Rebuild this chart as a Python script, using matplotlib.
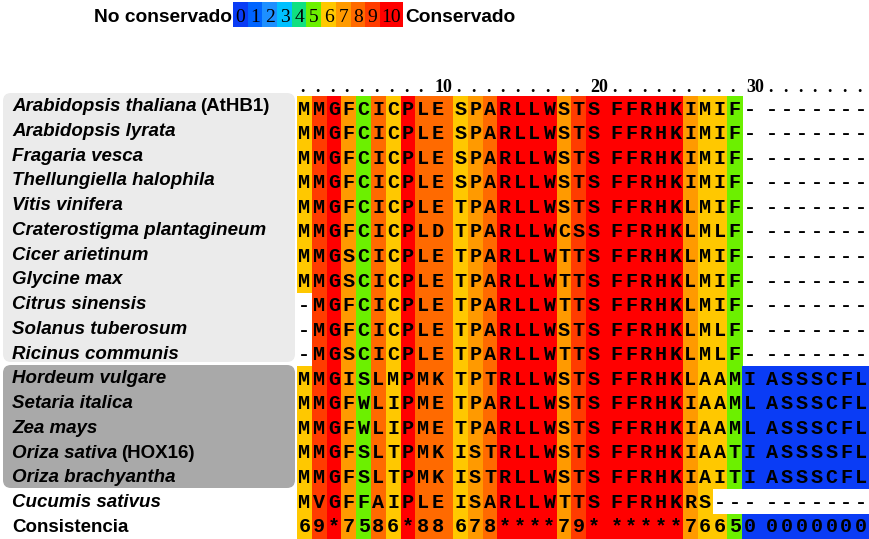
import matplotlib
matplotlib.use('Agg')
from matplotlib import pyplot as plt
from matplotlib.patches import Rectangle, FancyBboxPatch

species = ['Arabidopsis thaliana', 'Arabidopsis lyrata', 'Fragaria vesca',
           'Thellungiella halophila', 'Vitis vinifera', 'Craterostigma plantagineum',
           'Cicer arietinum', 'Glycine max', 'Citrus sinensis', 'Solanus tuberosum',
           'Ricinus communis', 'Hordeum vulgare', 'Setaria italica', 'Zea mays',
           'Oriza sativa', 'Oriza brachyantha', 'Cucumis sativus']
tags = ['(AtHB1)', '', '', '', '', '', '', '', '', '', '', '', '', '', '(HOX16)', '', '']

seqs = ['MMGFCICPLE' 'SPARLLWSTS' 'FFRHKIMIF-' '-------',
        'MMGFCICPLE' 'SPARLLWSTS' 'FFRHKIMIF-' '-------',
        'MMGFCICPLE' 'SPARLLWSTS' 'FFRHKIMIF-' '-------',
        'MMGFCICPLE' 'SPARLLWSTS' 'FFRHKIMIF-' '-------',
        'MMGFCICPLE' 'TPARLLWSTS' 'FFRHKLMIF-' '-------',
        'MMGFCICPLD' 'TPARLLWCSS' 'FFRHKLMLF-' '-------',
        'MMGSCICPLE' 'TPARLLWTTS' 'FFRHKLMIF-' '-------',
        'MMGSCICPLE' 'TPARLLWTTS' 'FFRHKLMIF-' '-------',
        '-MGFCICPLE' 'TPARLLWTTS' 'FFRHKLMIF-' '-------',
        '-MGFCICPLE' 'TPARLLWSTS' 'FFRHKLMLF-' '-------',
        '-MGSCICPLE' 'TPARLLWTTS' 'FFRHKLMLF-' '-------',
        'MMGISLMPMK' 'TPTRLLWSTS' 'FFRHKLAAMI' 'ASSSCFL',
        'MMGFWLIPME' 'TPARLLWSTS' 'FFRHKIAAML' 'ASSSCFL',
        'MMGFWLIPME' 'TPARLLWSTS' 'FFRHKIAAML' 'ASSSCFL',
        'MMGFSLTPMK' 'ISTRLLWSTS' 'FFRHKIAATI' 'ASSSSFL',
        'MMGFSLTPMK' 'ISTRLLWSTS' 'FFRHKIAITI' 'ASSSCFL',
        'MVGFFAIPLE' 'ISARLLWTTS' 'FFRHKRS---' '-------']
consensus = '69*7586*88' '678****79*' '*****76650' '0000000'

score_colors = ['#0a3cf5', '#0064ff', '#1e90ff', '#00c0ff', '#10e080', '#6cf000',
                '#ffc800', '#ff9a00', '#ff6a00', '#ff3c00', '#ff0000']
scores = [10 if c == '*' else int(c) for c in consensus]

W, H = 869, 539
fig = plt.figure(figsize=(W / 100, H / 100), dpi=100)
ax = fig.add_axes([0, 0, 1, 1])
ax.set_xlim(0, W)
ax.set_ylim(H, 0)
ax.axis('off')

# alignment grid: fixed pitch, with a narrow spacer after every 10 columns
x0, pitch, gap = 297, 14.8, 8
top0, rh = 96.2, 24.55
lab0, lab_rh = 111, 24.76
ncol = len(consensus)
mono = dict(family='Liberation Mono', weight='bold', size=14.5)


def col_x(j):
    return x0 + j * pitch + (j // 10) * gap


def cell_w(j):
    return pitch + gap if (j % 10 == 9 and j < ncol - 1) else pitch


# grey group boxes behind the names
ax.add_patch(FancyBboxPatch((3, 93), 292, 269, boxstyle='round,pad=0,rounding_size=8',
                            fc='#ebebeb', ec='none'))
ax.add_patch(FancyBboxPatch((3, 365), 292, 123, boxstyle='round,pad=0,rounding_size=8',
                            fc='#a9a9a9', ec='none'))

rows = seqs + [consensus]
for i, s in enumerate(rows):
    top = top0 + i * rh
    for j, c in enumerate(s):
        if c != '-':
            ax.add_patch(Rectangle((col_x(j), top), cell_w(j) + 0.4, rh + 0.4,
                                   fc=score_colors[scores[j]], ec='none'))
        ax.text(col_x(j) + pitch / 2, top + 18.5, c, ha='center', va='baseline', **mono)

# ruler
for j in range(ncol):
    if (j + 1) % 10 == 0:
        ax.text(col_x(j) + pitch + gap - 1, 92, str(j + 1), ha='right', va='baseline',
                family='Liberation Serif', weight='bold', size=13)
    else:
        ax.text(col_x(j) + pitch / 2 - 2, 92, '.', ha='center', va='baseline',
                family='Liberation Serif', weight='bold', size=13)

# species names (italic) with the gene tag in upright type
fig.canvas.draw()
renderer = fig.canvas.get_renderer()
for i, name in enumerate(species):
    y = lab0 + i * lab_rh
    t = ax.text(12, y, name, ha='left', va='baseline', family='Liberation Sans',
                weight='bold', style='italic', size=13.5)
    if tags[i]:
        bb = t.get_window_extent(renderer)
        xe = ax.transData.inverted().transform((bb.x1, bb.y0))[0]
        ax.text(xe + 4, y, tags[i], ha='left', va='baseline', family='Liberation Sans',
                weight='bold', size=13.5)
ax.text(12, lab0 + len(species) * lab_rh, 'Consistencia', ha='left', va='baseline',
        family='Liberation Sans', weight='bold', size=13.5)

# colour key
ax.text(232, 22, 'No conservado', ha='right', va='baseline', family='Liberation Sans',
        weight='bold', size=13.8)
kx = 233
for k in range(11):
    w = 23 if k == 10 else 14.7
    ax.add_patch(Rectangle((kx, 2), w, 25, fc=score_colors[k], ec='none'))
    ax.text(kx + w / 2, 22, str(k), ha='center', va='baseline', family='Liberation Serif',
            size=14)
    kx += w
ax.text(kx + 2, 22, 'Conservado', ha='left', va='baseline', family='Liberation Sans',
        weight='bold', size=13.8)

fig.savefig('out.png', dpi=100)
